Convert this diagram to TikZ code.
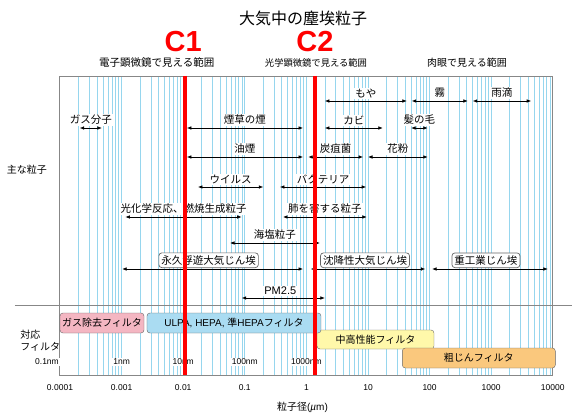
\documentclass[tikz,border=0pt]{standalone}
\usepackage{fontspec}
\setmainfont{Liberation Sans}
\newfontfamily\jpfont{Noto Sans CJK JP}
\usepackage{tikz}
\usetikzlibrary{arrows.meta}
\usetikzlibrary{positioning}
\definecolor{gridblue}{RGB}{150,214,238}
\definecolor{framegray}{RGB}{135,135,135}
\definecolor{gaspink}{RGB}{244,182,194}
\definecolor{ulpablue}{RGB}{170,220,242}
\definecolor{midyellow}{RGB}{255,248,170}
\definecolor{coarseorange}{RGB}{250,200,125}

\begin{document}
\begin{tikzpicture}[
  x=61.6pt, y=-1pt,
  gline/.style={gridblue, line width=0.8pt},
  frame/.style={framegray, line width=1pt},
  arr/.style={{Latex[length=4.5pt,width=3.6pt]}-{Latex[length=4.5pt,width=3.6pt]}, line width=0.7pt},
  lbl/.style={font=\jpfont\fontsize{10.5}{12}\selectfont, fill=white, inner sep=1pt},
  tag/.style={lbl, draw=black!60, rounded corners=3pt, inner sep=2.5pt},
  fbox/.style={draw=black!60, rounded corners=3pt, minimum height=20pt, inner sep=0pt,
    font=\fontsize{10}{12}\selectfont},
  cline/.style={red, line width=3.2pt},
  clab/.style={red, font=\fontsize{29}{30}\selectfont\bfseries},
  tick/.style={font=\fontsize{8.5}{10}\selectfont},
  nmtick/.style={font=\fontsize{8.5}{10}\selectfont, fill=white, inner sep=1pt}
]
\useasboundingbox (-4.974,0) rectangle (4.4416,414);

%% Title and ranges
\node[font=\jpfont\fontsize{16}{18}\selectfont] (title) at (-0.055,18) {大気中の塵埃粒子};
\node[font=\jpfont\fontsize{10.5}{12}\selectfont] (elec) at (-2.43,63) {電子顕微鏡で見える範囲};
\node[font=\jpfont\fontsize{9.3}{11}\selectfont] (opt) at (0.156,63) {光学顕微鏡で見える範囲};
\node[font=\jpfont\fontsize{10}{12}\selectfont] (eye) at (2.607,63) {肉眼で見える範囲};

%% Grid (log scale, 1 decade = 1 unit, 0 = 1 um)
\foreach \d in {-4,...,3}
  \foreach \k in {2,...,10}
    \draw[gline] ({\d+log10(\k)},77) -- ({\d+log10(\k)},375);
\draw[frame] (-4,77) rectangle (4,375);
\draw[frame] (-4.731,305) -- (4.312,305);

%% Left labels
\node[font=\jpfont\fontsize{10}{12}\selectfont] (main) at (-4.536,170) {主な粒子};
\node[font=\jpfont\fontsize{10}{12}\selectfont, align=left, anchor=west] (filt) at (-4.70,341) {対応\\フィルタ};

%% Row 1
\coordinate (moyaL) at (0.30,101);  \coordinate (moyaR) at (1.63,101);
\coordinate (kiriL) at (1.71,101);  \coordinate (kiriR) at (2.62,101);
\coordinate (ameL)  at (2.70,101);  \coordinate (ameR)  at (3.65,101);
\draw[arr] (moyaL) -- node[lbl, above=2pt] {もや} (moyaR);
\draw[arr] (kiriL) -- node[lbl, above=2pt] {霧} (kiriR);
\draw[arr] (ameL) -- node[lbl, above=2pt] {雨滴} (ameR);

%% Row 2
\coordinate (gasL) at (-3.68,128);  \coordinate (gasR) at (-3.32,128);
\coordinate (tabL) at (-1.94,128);  \coordinate (tabR) at (-0.055,128);
\coordinate (kabiL) at (0.30,128);  \coordinate (kabiR) at (1.24,128);
\coordinate (hairL) at (1.70,128);  \coordinate (hairR) at (1.97,128);
\draw[arr] (gasL) -- node[lbl, above=2pt] {ガス分子} (gasR);
\draw[arr] (tabL) -- node[lbl, above=2pt] {煙草の煙} (tabR);
\draw[arr] (kabiL) -- node[lbl, above=2pt] {カビ} (kabiR);
\draw[arr] (hairL) -- node[lbl, above=2pt] {髪の毛} (hairR);

%% Row 3
\coordinate (oilL) at (-1.94,157);  \coordinate (oilR) at (-0.055,157);
\coordinate (antL) at (0.03,157);   \coordinate (antR) at (0.92,157);
\coordinate (polL) at (1.00,157);   \coordinate (polR) at (1.97,157);
\draw[arr] (oilL) -- node[lbl, above=2pt] {油煙} (oilR);
\draw[arr] (antL) -- node[lbl, above=2pt] {炭疽菌} (antR);
\draw[arr] (polL) -- node[lbl, above=2pt] {花粉} (polR);

%% Row 4
\coordinate (virL) at (-1.76,187);  \coordinate (virR) at (-0.70,187);
\coordinate (bacL) at (-0.43,187);  \coordinate (bacR) at (0.97,187);
\draw[arr] (virL) -- node[lbl, above=2pt] {ウイルス} (virR);
\draw[arr] (bacL) -- node[lbl, above=2pt] {バクテリア} (bacR);

%% Row 5
\coordinate (photL) at (-2.94,217); \coordinate (photR) at (-1.05,217);
\coordinate (lungL) at (-0.38,217); \coordinate (lungR) at (0.98,217);
\draw[arr] (photL) -- node[lbl, above=2pt] {光化学反応、燃焼生成粒子} (photR);
\draw[arr] (lungL) -- node[lbl, above=2pt] {肺を害する粒子} (lungR);

%% Row 6
\coordinate (saltL) at (-1.24,243); \coordinate (saltR) at (0.22,243);
\draw[arr] (saltL) -- node[lbl, above=2pt] {海塩粒子} (saltR);

%% Row 7
\coordinate (permL) at (-2.99,269); \coordinate (permR) at (-0.055,269);
\coordinate (sedL) at (0.07,269);   \coordinate (sedR) at (1.93,269);
\coordinate (indL) at (2.04,269);   \coordinate (indR) at (3.92,269);
\draw[arr] (permL) -- node[tag, above=1pt, xshift=-4pt] {永久浮遊大気じん埃} (permR);
\draw[arr] (sedL) -- node[tag, above=1pt, xshift=-3pt] {沈降性大気じん埃} (sedR);
\draw[arr] (indL) -- node[tag, above=1pt, xshift=-4pt] {重工業じん埃} (indR);

%% Row 8
\coordinate (pmL) at (-1.05,298);   \coordinate (pmR) at (0.30,298);
\draw[arr] (pmL) -- node[lbl, font=\fontsize{11}{12}\selectfont, above=2pt, xshift=-3pt] {PM2.5} (pmR);

%% Filters
\node[fbox, fill=gaspink, minimum width=84pt] (gasf) at (-3.318,323) {\jpfont ガス除去フィルタ};
\node[fbox, fill=midyellow, minimum width=117pt, minimum height=19pt] (midf) at (1.1215,339.5) {\jpfont 中高性能フィルタ};
\node[fbox, fill=ulpablue, minimum width=174pt] (ulpaf) at (-1.1755,323) {ULPA, HEPA, {\jpfont 準}HEPA{\jpfont フィルタ}};
\node[fbox, fill=coarseorange, minimum width=153pt] (coarsef) at (2.799,358) {\jpfont 粗じんフィルタ};

%% nm labels
\node[nmtick, anchor=east] (nm01) at (-4,362) {0.1nm};
\node[nmtick] (nm1) at (-3,362) {1nm};
\node[nmtick] (nm10) at (-2,362) {10nm};
\node[nmtick] (nm100) at (-1,362) {100nm};
\node[nmtick] (nm1000) at (0,362) {1000nm};

%% um axis labels
\node[tick] (t0) at (-4,388) {0.0001};
\node[tick] (t1) at (-3,388) {0.001};
\node[tick] (t2) at (-2,388) {0.01};
\node[tick] (t3) at (-1,388) {0.1};
\node[tick] (t4) at (0,388) {1};
\node[tick] (t5) at (1,388) {10};
\node[tick] (t6) at (2,388) {100};
\node[tick] (t7) at (3,388) {1000};
\node[tick] (t8) at (4,388) {10000};
\node[font=\fontsize{10}{12}\selectfont] (xlab) at (-0.063,407) {{\jpfont 粒子径}(\textit{µ}m)};

%% C1 / C2
\coordinate (c1top) at (-1.97,76);  \coordinate (c1bot) at (-1.97,375);
\coordinate (c2top) at (0.14,76);   \coordinate (c2bot) at (0.14,375);
\draw[cline] (c1top) -- (c1bot);
\draw[cline] (c2top) -- (c2bot);
\node[clab] (c1) at (-2.0,42) {C1};
\node[clab] (c2) at (0.14,42) {C2};

\end{tikzpicture}
\end{document}
